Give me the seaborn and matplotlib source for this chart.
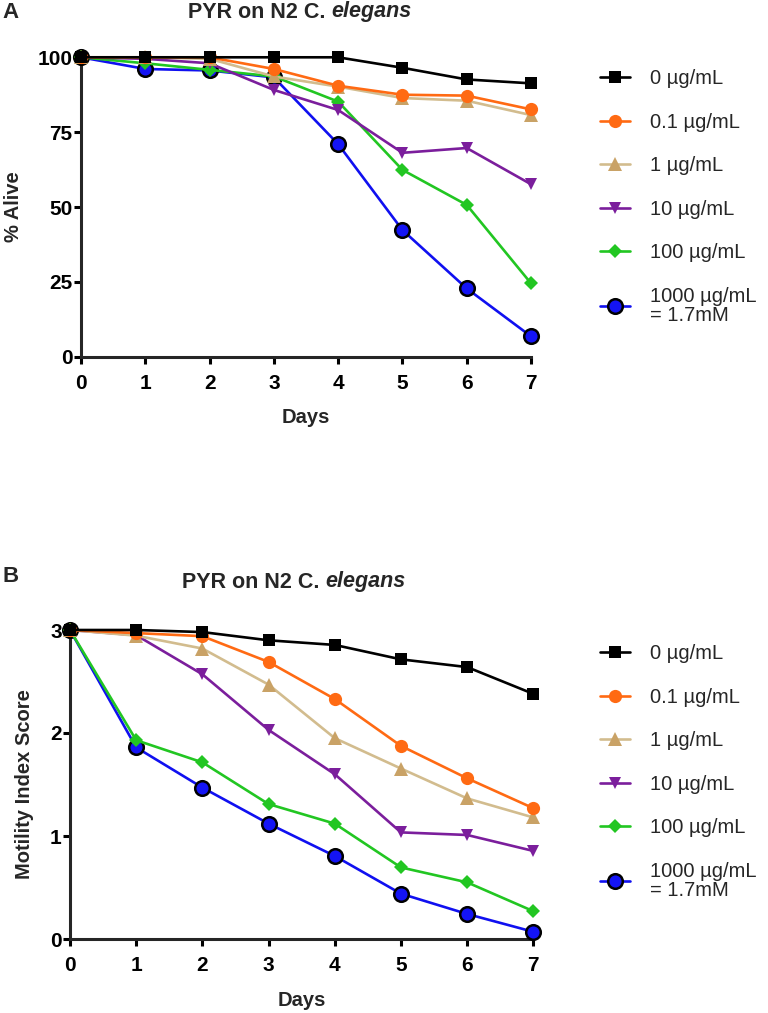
import numpy as np
import pandas as pd
import seaborn as sns
import matplotlib
matplotlib.use("Agg")
from matplotlib import pyplot as plt

days = [0, 1, 2, 3, 4, 5, 6, 7]
doses = ["0 \u00b5g/mL", "0.1 \u00b5g/mL", "1 \u00b5g/mL", "10 \u00b5g/mL",
         "100 \u00b5g/mL", "1000 \u00b5g/mL\n= 1.7mM"]

# % alive per dose (panel A)
alive_0 = [100, 100, 100, 100, 100, 96.5, 92.6, 91.3]
alive_01 = [100, 100, 100, 96.1, 90.5, 87.5, 87.2, 82.6]
alive_1 = [100, 100, 99.5, 93.6, 90.2, 86.4, 85.5, 80.7]
alive_10 = [100, 99.5, 98.0, 89.1, 82.4, 68.1, 69.7, 57.6]
alive_100 = [100, 98.0, 95.8, 93.6, 85.2, 62.4, 50.7, 24.5]
alive_1000 = [100, 96.1, 95.6, 93.3, 71.0, 42.3, 22.8, 6.8]

# motility index score per dose (panel B)
mot_0 = [3.0, 3.0, 2.98, 2.90, 2.855, 2.715, 2.64, 2.38]
mot_01 = [3.0, 2.97, 2.94, 2.69, 2.33, 1.875, 1.56, 1.27]
mot_1 = [3.0, 2.945, 2.82, 2.47, 1.95, 1.655, 1.365, 1.18]
mot_10 = [3.0, 2.95, 2.57, 2.03, 1.60, 1.035, 1.01, 0.855]
mot_100 = [3.0, 1.93, 1.715, 1.31, 1.12, 0.695, 0.55, 0.27]
mot_1000 = [3.0, 1.86, 1.47, 1.12, 0.806, 0.44, 0.243, 0.07]

alive = [alive_0, alive_01, alive_1, alive_10, alive_100, alive_1000]
motility = [mot_0, mot_01, mot_1, mot_10, mot_100, mot_1000]

line_colors = ["#000000", "#FF6A13", "#D2BC8E", "#7B1E9C", "#22C622", "#1010F0"]
face_colors = ["#000000", "#FF6A13", "#C9A266", "#7B1E9C", "#22C622", "#1414F5"]
edge_colors = ["#000000", "#FF6A13", "#C9A266", "#7B1E9C", "#22C622", "#000000"]
markers = ["s", "o", "^", "v", "D", "o"]
msizes = [8.5, 9.5, 9.5, 9, 7, 10.5]
medges = [0, 0, 0, 0, 0, 1.8]

sns.set_style("ticks")
plt.rcParams["font.family"] = ["Liberation Sans", "DejaVu Sans"]

fig = plt.figure(figsize=(7.68, 10.13), dpi=100)
W, H = 768, 1013


def px_axes(l, t, r, b):
    return fig.add_axes([l / W, 1 - b / H, (r - l) / W, (b - t) / H])


def draw_panel(ax, series, ylim, yticks, ylabel, legend_top):
    for i, vals in enumerate(series):
        df = pd.DataFrame({"day": days, "val": vals})
        sns.lineplot(data=df, x="day", y="val", ax=ax, color=line_colors[i],
                     marker=markers[i], markersize=msizes[i],
                     markerfacecolor=face_colors[i], markeredgecolor=edge_colors[i],
                     markeredgewidth=medges[i], linewidth=1.9, clip_on=False,
                     zorder=10 - i, label=doses[i])
    handles = ax.get_lines()
    ax.set_xlim(0, 7)
    ax.set_ylim(*ylim)
    ax.set_xticks(days)
    ax.set_yticks(yticks)
    for s in ["top", "right"]:
        ax.spines[s].set_visible(False)
    for s in ["left", "bottom"]:
        ax.spines[s].set_linewidth(2.2)
    ax.tick_params(width=2.2, length=5, labelsize=15, colors="black")
    ax.tick_params(axis="x", pad=7.5)
    ax.tick_params(axis="y", pad=1)
    for lab in ax.get_xticklabels() + ax.get_yticklabels():
        lab.set_fontweight("bold")
    ax.set_xlabel("Days", fontsize=14.5, fontweight="bold", labelpad=11)
    ax.set_ylabel(ylabel, fontsize=14.5, fontweight="bold")
    leg = ax.legend(handles=list(handles), labels=doses, loc="upper left",
                    bbox_to_anchor=(600 / W, 1 - legend_top / H),
                    bbox_transform=fig.transFigure, frameon=False, fontsize=14.5,
                    handlelength=1.5, handletextpad=1.0, labelspacing=1.22,
                    borderpad=0, borderaxespad=0)
    for t in leg.get_texts():
        t.set_linespacing(1.0)
    return ax


axA = px_axes(81, 57.3, 531, 356.7)
draw_panel(axA, alive, (0, 100), [0, 25, 50, 75, 100], "% Alive", 69)
axA.yaxis.set_label_coords(-(81 - 23) / 450, 0.5)

axB = px_axes(70, 630, 533.3, 939)
draw_panel(axB, motility, (0, 3), [0, 1, 2, 3], "Motility Index Score", 644)
axB.yaxis.set_label_coords(-(70 - 34) / 463.3, 0.5)

# titles: bold text followed by bold italic species name
for x0, y0 in [(188, 12), (182, 582)]:
    t = fig.text(x0 / W, 1 - y0 / H, "PYR on N2 C. ", fontsize=15.5,
                 fontweight="bold", ha="left", va="center")
    fig.add_artist(plt.Annotation("elegans", xy=(1, 0), xycoords=t, fontsize=15.5,
                                  fontweight="bold", fontstyle="italic",
                                  ha="left", va="bottom", annotation_clip=False))

fig.text(2 / W, 1 - 12 / H, "A", fontsize=16, fontweight="bold", ha="left", va="center")
fig.text(2 / W, 1 - 576 / H, "B", fontsize=16, fontweight="bold", ha="left", va="center")

fig.savefig("out.png", dpi=100)
